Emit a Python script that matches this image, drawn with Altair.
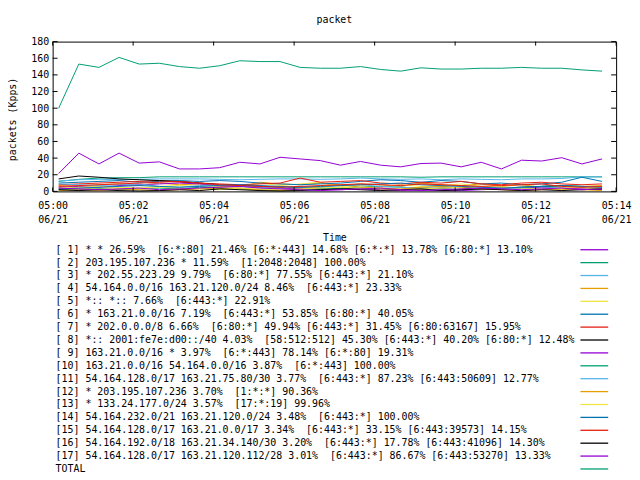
import altair as alt
import pandas as pd

FONT = "DejaVu Sans Mono"
DAY = "2015-06-21"

TIMES = ["05:00:09", "05:00:39", "05:01:09", "05:01:39", "05:02:09", "05:02:39",
         "05:03:09", "05:03:39", "05:04:09", "05:04:39", "05:05:09", "05:05:39",
         "05:06:09", "05:06:39", "05:07:09", "05:07:39", "05:08:09", "05:08:39",
         "05:09:09", "05:09:39", "05:10:09", "05:10:39", "05:11:09", "05:11:39",
         "05:12:09", "05:12:39", "05:13:09", "05:13:39"]

S01 = [21.5, 46, 33, 46, 34, 35.5, 27, 27, 28.5, 35, 33, 41, 39, 37, 31.5, 36, 31.5, 29.5, 33.5, 34, 29.5, 35, 27, 37.5, 36.5, 40.5, 33, 39]
S02 = [12, 14.5, 16, 16.5, 16.5, 17.5, 17.5, 17.5, 17.5, 17.5, 17.5, 17.5, 17.5, 17.5, 17.5, 17.5, 17.5, 17.5, 17, 17.5, 17.5, 17.5, 17.5, 17.5, 17.5, 17.5, 17.5, 17.5]
S03 = [12.5, 14, 14.5, 14, 14.5, 15, 15, 15, 14.5, 14, 14.5, 15, 15, 14.5, 15, 16, 15, 14.5, 15, 14, 15, 14.5, 14, 15, 15, 15.5, 17.5, 17.5]
S04 = [7, 6, 8, 9, 7, 10, 8, 9, 6, 5, 11, 9, 8, 10, 7, 9, 8, 6, 10, 8, 7, 9, 6, 8, 5, 7, 6, 7]
S05 = [3, 4, 3, 5, 4, 6, 7, 6, 5, 6, 10, 7, 9, 11, 6, 7, 5, 8, 6, 7, 9, 6, 4, 3, 5, 2, 4, 3]
S06 = [10, 11, 12, 13, 11, 12, 13, 12, 13, 12, 10, 9, 8, 9, 10, 12, 14, 13, 11, 13, 12, 9, 10, 8, 9, 11, 17, 12]
S07 = [8, 9, 10, 11, 12, 13, 11, 10, 9, 8, 9, 10, 16, 11, 12, 13, 10, 9, 11, 10, 12, 9, 8, 10, 11, 9, 8, 9]
S08 = [15, 18.5, 17, 15, 14, 13, 12, 10, 8, 7, 6, 5, 4, 4, 3, 4, 3, 2, 3, 4, 5, 3, 4, 5, 6, 7, 5, 4]
S09 = [5, 6, 5, 7, 8, 9, 10, 9, 7, 6, 5, 4, 3, 2, 2, 3, 2, 1, 2, 1, 1, 2, 3, 4, 5, 4, 3, 2]
S10 = [2, 2, 3, 2, 3, 4, 3, 5, 4, 3, 2, 1, 2, 3, 4, 5, 6, 5, 4, 3, 2, 3, 4, 5, 6, 7, 6, 5]
S11 = [9, 8, 7, 8, 9, 6, 5, 7, 8, 6, 5, 4, 6, 5, 7, 8, 6, 5, 4, 6, 7, 5, 4, 3, 4, 5, 6, 5]
S12 = [1, 2, 1, 3, 2, 1, 2, 3, 4, 3, 2, 1, 2, 6, 8, 5, 4, 3, 5, 6, 4, 3, 2, 1, 2, 3, 2, 1]
S13 = [4, 5, 6, 4, 3, 5, 4, 3, 2, 4, 3, 2, 3, 4, 5, 4, 3, 2, 3, 4, 5, 6, 5, 4, 3, 4, 5, 4]
S14 = [3, 4, 5, 6, 7, 6, 5, 6, 7, 8, 7, 6, 5, 6, 7, 8, 9, 10, 8, 7, 6, 5, 4, 5, 6, 7, 6, 5]
S15 = [6, 7, 8, 9, 10, 11, 12, 10, 8, 7, 6, 5, 6, 7, 8, 9, 8, 7, 9, 8, 7, 6, 7, 8, 9, 6, 5, 6]
S16 = [2, 1, 2, 1, 0.5, 1, 2, 1, 3, 2, 1, 0.5, 1, 2, 3, 2, 1, 2, 3, 1, 2, 3, 2, 1, 2, 1, 2, 3]
S17 = [4, 3, 2, 3, 4, 2, 3, 4, 5, 6, 4, 3, 2, 1, 2, 3, 4, 2, 1, 2, 3, 4, 3, 2, 3, 4, 2, 3]
TOTAL = [100, 153, 149, 161, 153, 154, 150, 148, 151, 157, 156, 156, 149, 148, 148, 150, 146.5, 144.5, 148.5, 147, 147, 148, 148, 149, 148, 148, 146, 144.5]

KEYS = ["s01", "s02", "s03", "s04", "s05", "s06", "s07", "s08", "s09",
        "s10", "s11", "s12", "s13", "s14", "s15", "s16", "s17", "TOTAL"]
VALUES = [S01, S02, S03, S04, S05, S06, S07, S08, S09,
          S10, S11, S12, S13, S14, S15, S16, S17, TOTAL]

NB = "\u00a0"
LABELS = [
    "[ 1] * * 26.59%" + NB + " [6:*:80] 21.46% [6:*:443] 14.68% [6:*:*] 13.78% [6:80:*] 13.10%",
    "[ 2] 203.195.107.236 * 11.59%" + NB + " [1:2048:2048] 100.00%",
    "[ 3] * 202.55.223.29 9.79%" + NB + " [6:80:*] 77.55% [6:443:*] 21.10%",
    "[ 4] 54.164.0.0/16 163.21.120.0/24 8.46%" + NB + " [6:443:*] 23.33%",
    "[ 5] *:: *:: 7.66%" + NB + " [6:443:*] 22.91%",
    "[ 6] * 163.21.0.0/16 7.19%" + NB + " [6:443:*] 53.85% [6:80:*] 40.05%",
    "[ 7] * 202.0.0.0/8 6.66%" + NB + " [6:80:*] 49.94% [6:443:*] 31.45% [6:80:63167] 15.95%",
    "[ 8] *:: 2001:fe7e:d00::/40 4.03%" + NB + " [58:512:512] 45.30% [6:443:*] 40.20% [6:80:*] 12.48%",
    "[ 9] 163.21.0.0/16 * 3.97%" + NB + " [6:*:443] 78.14% [6:*:80] 19.31%",
    "[10] 163.21.0.0/16 54.164.0.0/16 3.87%" + NB + " [6:*:443] 100.00%",
    "[11] 54.164.128.0/17 163.21.75.80/30 3.77%" + NB + " [6:443:*] 87.23% [6:443:50609] 12.77%",
    "[12] * 203.195.107.236 3.70%" + NB + " [1:*:*] 90.36%",
    "[13] * 133.24.177.0/24 3.57%" + NB + " [17:*:19] 99.96%",
    "[14] 54.164.232.0/21 163.21.120.0/24 3.48%" + NB + " [6:443:*] 100.00%",
    "[15] 54.164.128.0/17 163.21.0.0/17 3.34%" + NB + " [6:443:*] 33.15% [6:443:39573] 14.15%",
    "[16] 54.164.192.0/18 163.21.34.140/30 3.20%" + NB + " [6:443:*] 17.78% [6:443:41096] 14.30%",
    "[17] 54.164.128.0/17 163.21.120.112/28 3.01%" + NB + " [6:443:*] 86.67% [6:443:53270] 13.33%",
    "TOTAL",
]
ROWS = [1, 2, 3, 4, 5, 6, 7, 8, 9, 10, 11, 12, 13, 14, 15, 16, 17, 18]

COLORS = ["#9400d3", "#009e73", "#56b4e9", "#e69f00", "#f0e442", "#0072b2", "#e51e10", "#000000",
          "#9400d3", "#009e73", "#56b4e9", "#e69f00", "#f0e442", "#0072b2", "#e51e10", "#000000",
          "#9400d3", "#009e73"]

Y_TICKS = [0, 20, 40, 60, 80, 100, 120, 140, 160, 180]
X_TICK_MINUTES = [0, 2, 4, 6, 8, 10, 12, 14]

records = []
for key, vals in zip(KEYS, VALUES):
    for t, v in zip(TIMES, vals):
        records.append({"series": key, "t": f"{DAY}T{t}Z", "v": v})
df = pd.DataFrame(records)

legend_df = pd.DataFrame({"row": ROWS, "label": LABELS, "series": KEYS})
ytick_df = pd.DataFrame({"v": Y_TICKS})
xtick_df = pd.DataFrame({"t": [f"{DAY}T05:{m:02d}:00Z" for m in X_TICK_MINUTES]})


def dt(m):
    return alt.DateTime(year=2015, month=6, date=21, hours=5, minutes=m, utc=True)


xscale = alt.Scale(type="utc", domain=[dt(0), dt(14)])
yscale = alt.Scale(domain=[0, 180], nice=False, zero=False)
cscale = alt.Scale(domain=KEYS, range=COLORS)
rowscale = alt.Scale(domain=[1, 18], range=[209.8, 430.8], nice=False, zero=False)

x_axis = alt.Axis(
    values=[dt(m) for m in X_TICK_MINUTES],
    labelExpr="[utcFormat(datum.value, '%H:%M'), utcFormat(datum.value, '%m/%d')]",
    labelFont=FONT, labelFontSize=10, labelColor="black",
    labelBaseline="top", labelPadding=9, labelLineHeight=14,
    labelFlush=False, labelOverlap=False,
    ticks=False, domain=False, grid=False,
    title="Time", titleFont=FONT, titleFontSize=10, titleFontWeight="normal",
    titleColor="black", titleY=46, titleBaseline="middle",
)
y_axis = alt.Axis(
    values=Y_TICKS,
    labelFont=FONT, labelFontSize=10, labelColor="black", labelPadding=4,
    labelOverlap=False, labelFlush=False, labelBaseline="middle",
    ticks=False, domain=False, grid=False,
    title="packets (Kpps)", titleFont=FONT, titleFontSize=10, titleFontWeight="normal",
    titleColor="black", titleX=-40, titleY=78, titleAngle=270,
    titleAlign="center", titleBaseline="middle",
)

lines = alt.Chart(df).mark_line(strokeWidth=1).encode(
    x=alt.X("t:T", scale=xscale, axis=x_axis),
    y=alt.Y("v:Q", scale=yscale, axis=y_axis),
    color=alt.Color("series:N", scale=cscale, legend=None),
)

ytick_left = alt.Chart(ytick_df).mark_rule(color="black", strokeWidth=1).encode(
    y=alt.Y("v:Q", scale=yscale, axis=y_axis), x=alt.value(0), x2=alt.value(5))
ytick_right = alt.Chart(ytick_df).mark_rule(color="black", strokeWidth=1).encode(
    y=alt.Y("v:Q", scale=yscale, axis=y_axis), x=alt.value(563), x2=alt.value(568))
xtick_top = alt.Chart(xtick_df).mark_rule(color="black", strokeWidth=1).encode(
    x=alt.X("t:T", scale=xscale, axis=x_axis), y=alt.value(0), y2=alt.value(4))
xtick_bottom = alt.Chart(xtick_df).mark_rule(color="black", strokeWidth=1).encode(
    x=alt.X("t:T", scale=xscale, axis=x_axis), y=alt.value(147), y2=alt.value(151))

main = alt.layer(lines, ytick_left, ytick_right, xtick_top, xtick_bottom)

legend_text = alt.Chart(legend_df).mark_text(
    align="left", baseline="middle", font=FONT, fontSize=10, color="black"
).encode(
    x=alt.value(3),
    y=alt.Y("row:Q", scale=rowscale, axis=None),
    text="label:N",
)
legend_rules = alt.Chart(legend_df).mark_rule(strokeWidth=1.3).encode(
    x=alt.value(532), x2=alt.value(560),
    y=alt.Y("row:Q", scale=rowscale, axis=None),
    color=alt.Color("series:N", scale=cscale, legend=None),
)
legend = alt.layer(legend_text, legend_rules)

chart = alt.layer(main, legend).resolve_scale(y="independent").properties(
    width=568, height=151,
    padding={"left": 45, "top": 32, "right": 16, "bottom": 283},
    autosize=alt.AutoSizeParams(type="none"),
    title=alt.TitleParams("packet", font=FONT, fontSize=10, fontWeight="normal",
                          anchor="middle", baseline="middle", offset=7,
                          frame="group", color="black"),
    background="white",
).configure_view(stroke="black", strokeWidth=1)

chart.save("out.html", embed_options={"renderer": "svg", "actions": False})
